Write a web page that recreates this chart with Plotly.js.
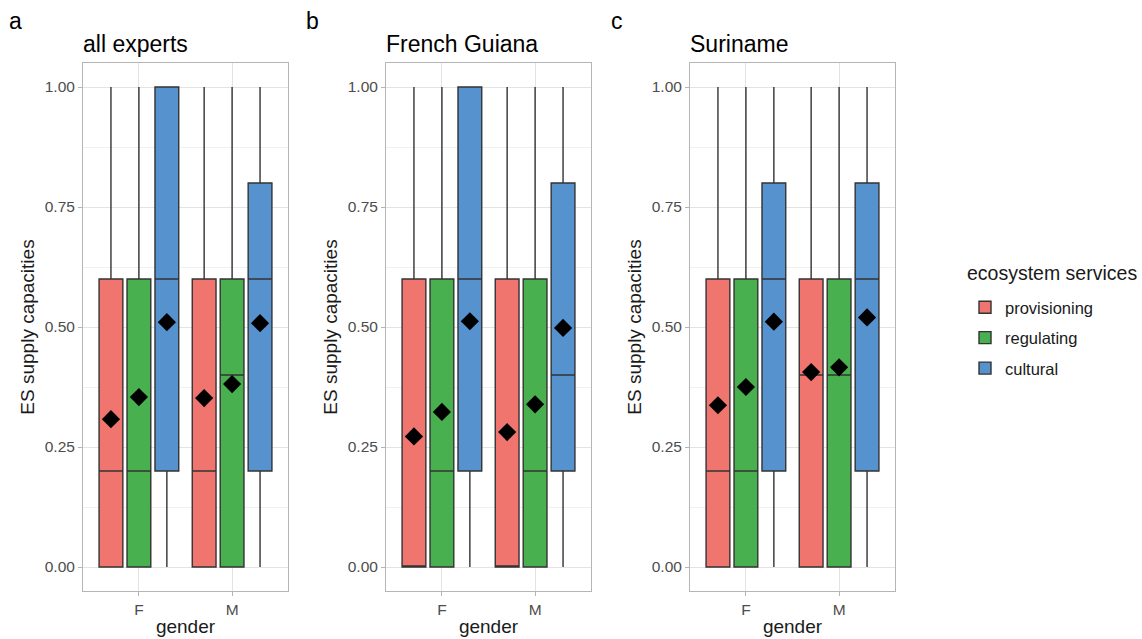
<!DOCTYPE html>
<html>
<head>
<meta charset="utf-8">
<script src="https://cdn.plot.ly/plotly-3.0.1.min.js"></script>
<style>html,body{margin:0;padding:0;background:#fff;}#chart{width:1142px;height:639px;}</style>
</head>
<body>
<div id="chart"></div>
<script>
// ---------- data ----------
const genders = ['F', 'M'];
const services = ['provisioning', 'regulating', 'cultural'];
const panelTitles = ['all experts', 'French Guiana', 'Suriname'];
const panelLetters = ['a', 'b', 'c'];
const legendTitle = 'ecosystem services';

// all experts
const allProvQ1 = [0, 0], allProvMed = [0.2, 0.2], allProvQ3 = [0.6, 0.6], allProvLo = [0, 0], allProvHi = [1, 1], allProvMean = [0.308, 0.352];
const allRegQ1 = [0, 0], allRegMed = [0.2, 0.4], allRegQ3 = [0.6, 0.6], allRegLo = [0, 0], allRegHi = [1, 1], allRegMean = [0.354, 0.381];
const allCulQ1 = [0.2, 0.2], allCulMed = [0.6, 0.6], allCulQ3 = [1.0, 0.8], allCulLo = [0, 0], allCulHi = [1, 1], allCulMean = [0.510, 0.508];
// French Guiana
const fgProvQ1 = [0, 0], fgProvMed = [0, 0], fgProvQ3 = [0.6, 0.6], fgProvLo = [0, 0], fgProvHi = [1, 1], fgProvMean = [0.272, 0.281];
const fgRegQ1 = [0, 0], fgRegMed = [0.2, 0.2], fgRegQ3 = [0.6, 0.6], fgRegLo = [0, 0], fgRegHi = [1, 1], fgRegMean = [0.323, 0.339];
const fgCulQ1 = [0.2, 0.2], fgCulMed = [0.6, 0.4], fgCulQ3 = [1.0, 0.8], fgCulLo = [0, 0], fgCulHi = [1, 1], fgCulMean = [0.512, 0.498];
// Suriname
const suProvQ1 = [0, 0], suProvMed = [0.2, 0.4], suProvQ3 = [0.6, 0.6], suProvLo = [0, 0], suProvHi = [1, 1], suProvMean = [0.337, 0.406];
const suRegQ1 = [0, 0], suRegMed = [0.2, 0.4], suRegQ3 = [0.6, 0.6], suRegLo = [0, 0], suRegHi = [1, 1], suRegMean = [0.375, 0.416];
const suCulQ1 = [0.2, 0.2], suCulMed = [0.6, 0.6], suCulQ3 = [0.8, 0.8], suCulLo = [0, 0], suCulHi = [1, 1], suCulMean = [0.511, 0.520];

const panelData = [
  [[allProvQ1, allProvMed, allProvQ3, allProvLo, allProvHi, allProvMean],
   [allRegQ1, allRegMed, allRegQ3, allRegLo, allRegHi, allRegMean],
   [allCulQ1, allCulMed, allCulQ3, allCulLo, allCulHi, allCulMean]],
  [[fgProvQ1, fgProvMed, fgProvQ3, fgProvLo, fgProvHi, fgProvMean],
   [fgRegQ1, fgRegMed, fgRegQ3, fgRegLo, fgRegHi, fgRegMean],
   [fgCulQ1, fgCulMed, fgCulQ3, fgCulLo, fgCulHi, fgCulMean]],
  [[suProvQ1, suProvMed, suProvQ3, suProvLo, suProvHi, suProvMean],
   [suRegQ1, suRegMed, suRegQ3, suRegLo, suRegHi, suRegMean],
   [suCulQ1, suCulMed, suCulQ3, suCulLo, suCulHi, suCulMean]]
];

// ---------- style ----------
const colors = ['#F1756F', '#49B04F', '#5592CE'];
const W = 1142, H = 639;
const panelLeft = [83, 386, 690];
const panelWidth = 205;
const plotTop = 63, plotBottom = 591;
const dodge = 0.3, boxW = 0.255;
const font = '"Liberation Sans", Arial, sans-serif';

const traces = [];
const layout = {
  width: W, height: H,
  margin: {l: 0, r: 0, t: 0, b: 0},
  paper_bgcolor: '#fff', plot_bgcolor: '#fff',
  font: {family: font, color: '#000'},
  showlegend: true,
  legend: {
    x: 965 / W, xanchor: 'left', y: 1 - 290 / H, yanchor: 'top',
    font: {size: 16.5, color: '#1a1a1a'},
    tracegroupgap: 6,
    itemwidth: 30
  },
  annotations: [{
    xref: 'paper', yref: 'paper', x: 965 / W, y: 1 - 273 / H,
    xanchor: 'left', yanchor: 'middle', showarrow: false,
    text: legendTitle, font: {size: 19.5, color: '#1a1a1a', family: font}
  }],
  boxmode: 'overlay'
};

panelData.forEach((panel, p) => {
  const xa = p === 0 ? 'x' : 'x' + (p + 1);
  const ya = p === 0 ? 'y' : 'y' + (p + 1);
  const xk = p === 0 ? 'xaxis' : 'xaxis' + (p + 1);
  const yk = p === 0 ? 'yaxis' : 'yaxis' + (p + 1);
  panel.forEach((s, si) => {
    const xs = genders.map((g, gi) => gi + 1 + (si - 1) * dodge);
    traces.push({
      type: 'box', name: services[si], legendgroup: services[si], showlegend: p === 0,
      x: xs, q1: s[0], median: s[1], q3: s[2], lowerfence: s[3], upperfence: s[4],
      width: boxW, whiskerwidth: 0,
      fillcolor: colors[si], line: {color: '#333333', width: 1.4},
      xaxis: xa, yaxis: ya, hoverinfo: 'skip', boxpoints: false
    });
  });
  panel.forEach((s, si) => {
    const xs = genders.map((g, gi) => gi + 1 + (si - 1) * dodge);
    traces.push({
      type: 'scatter', mode: 'markers', x: xs, y: s[5], showlegend: false,
      marker: {symbol: 'diamond', size: 14, color: '#000'},
      xaxis: xa, yaxis: ya, hoverinfo: 'skip'
    });
  });
  layout[xk] = {
    domain: [panelLeft[p] / W, (panelLeft[p] + panelWidth) / W],
    anchor: ya, range: [0.4, 2.6],
    tickvals: [1, 2], ticktext: genders,
    showgrid: true, gridcolor: '#E3E3E3', gridwidth: 1,
    zeroline: false, showline: true, mirror: true, linecolor: '#B5B5B5', linewidth: 1,
    ticks: 'outside', ticklen: 4, tickcolor: '#B5B5B5',
    tickfont: {size: 15.5, color: '#4D4D4D', family: font},
    title: {text: 'gender', font: {size: 19, color: '#1a1a1a', family: font}, standoff: 3}
  };
  layout[yk] = {
    domain: [1 - plotBottom / H, 1 - plotTop / H],
    anchor: xa, range: [-0.05, 1.05],
    tickvals: [0, 0.25, 0.5, 0.75, 1], tickformat: '.2f',
    showgrid: true, gridcolor: '#E3E3E3', gridwidth: 1,
    minor: {tickvals: [0.125, 0.375, 0.625, 0.875], showgrid: true, gridcolor: '#F0F0F0', gridwidth: 1, ticks: ''},
    zeroline: false, showline: true, mirror: true, linecolor: '#B5B5B5', linewidth: 1,
    ticks: 'outside', ticklen: 4, tickcolor: '#B5B5B5',
    tickfont: {size: 15.5, color: '#4D4D4D', family: font},
    title: {text: 'ES supply capacities', font: {size: 19, color: '#1a1a1a', family: font}, standoff: 5}
  };
  layout.annotations.push({
    xref: 'paper', yref: 'paper', x: (panelLeft[p] - 2) / W, y: 1 - 44 / H,
    xanchor: 'left', yanchor: 'middle', showarrow: false,
    text: panelTitles[p], font: {size: 23, color: '#000', family: font}
  });
  layout.annotations.push({
    xref: 'paper', yref: 'paper', x: [7, 304, 609][p] / W, y: 1 - 21 / H,
    xanchor: 'left', yanchor: 'middle', showarrow: false,
    text: panelLetters[p], font: {size: 23, color: '#000', family: font}
  });
});

Plotly.newPlot('chart', traces, layout, {displayModeBar: false, staticPlot: true});
</script>
</body>
</html>
